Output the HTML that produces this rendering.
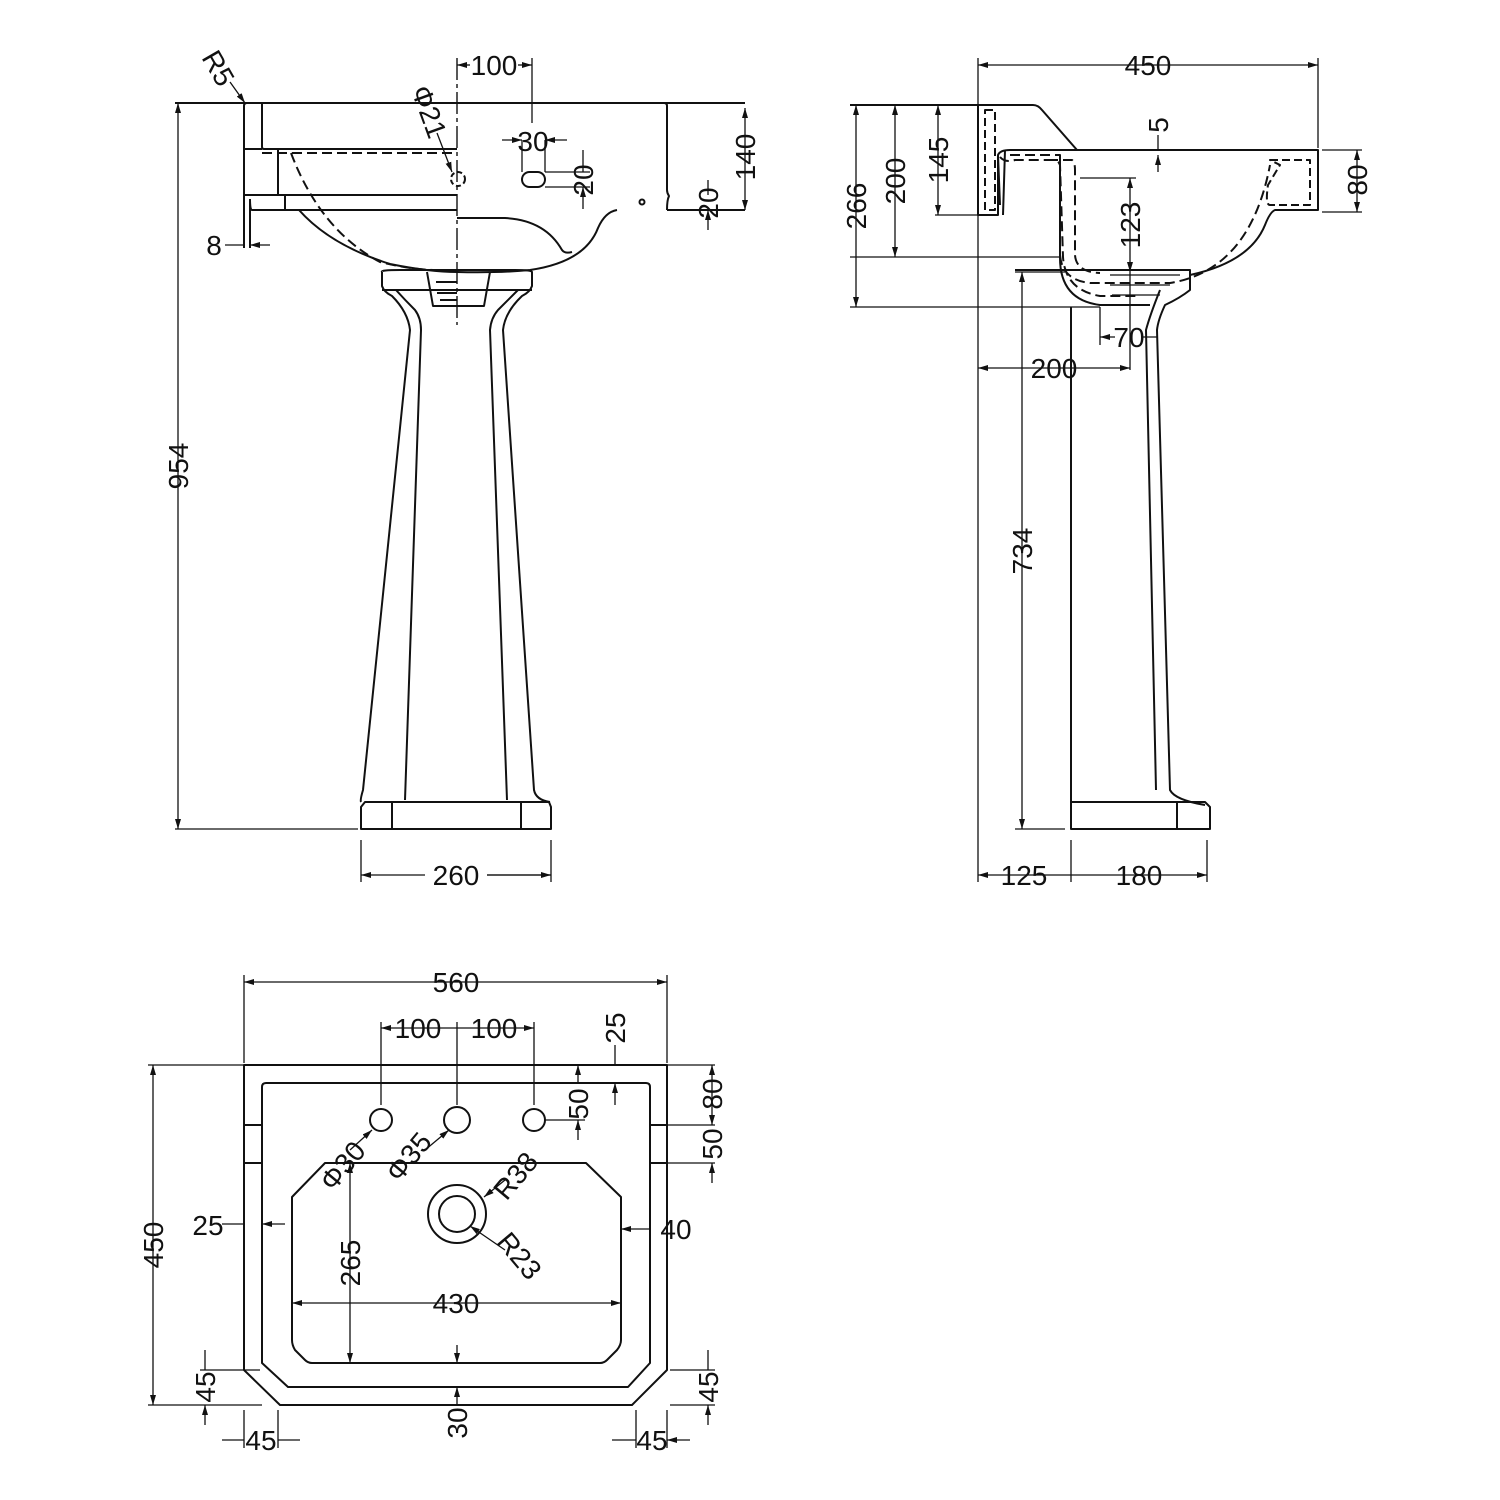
<!DOCTYPE html>
<html><head><meta charset="utf-8"><style>html,body{margin:0;padding:0;background:#fff}svg{display:block}</style></head><body>
<svg width="1500" height="1500" viewBox="0 0 1500 1500" xmlns="http://www.w3.org/2000/svg">
<defs>
<marker id="a" viewBox="0 0 10 6" refX="10" refY="3" markerWidth="10" markerHeight="6" orient="auto-start-reverse" markerUnits="userSpaceOnUse"><path d="M0,0L10,3L0,6Z" fill="#111"/></marker>
</defs>
<g fill="none" stroke="#111" stroke-width="2" stroke-linejoin="round">
<!-- FRONT VIEW -->
<path d="M175,103H745"/>
<path d="M247,103H664Q667,103 667,106V190Q667,193 669,196Q667,200 667,210"/>
<path d="M247,103Q244,103 244,106V195H457M262,103V147Q262,149 264,149H457M244,149H262M278,149V195"/>
<path d="M244,195V248M250,199V248M250,199Q250,210 252,210H457M285,195V210"/>
<path d="M262,153H457" stroke-dasharray="10,5"/>
<path d="M299,210Q330,245 390,264Q430,272 457,272"/>
<path d="M291,153Q320,230 380,262Q420,272 457,270" stroke-dasharray="10,5"/>
<path d="M667,210H745M617,210Q605,212 598,228Q585,262 530,270Q500,273 457,272"/>
<path d="M457,218H505Q545,220 562,250Q565,254 572,252"/>
<circle cx="642" cy="202" r="2.5"/>
<circle cx="458" cy="179" r="7" stroke-dasharray="5,3"/>
<rect x="522" y="172" width="23" height="15" rx="7.5"/>
<path d="M457,58V325" stroke-dasharray="22,4,4,4" stroke-width="1.4"/>
<!-- pedestal front -->
<path d="M382,272V286Q384,292 392,296Q408,312 410,330L363,790Q360,800 361,802"/>
<path d="M532,272V286Q530,292 522,296Q505,312 503,330L534,790Q536,800 550,802"/>
<path d="M382,272Q380,270 400,270H515Q532,270 532,272"/>
<path d="M382,290H532"/>
<path d="M396,290Q405,300 415,310Q421,318 421,330L405,800M518,290Q508,300 498,310Q491,318 490,330L507,800"/>
<path d="M427,272L433,306H484L490,272M436,282H457M437,293H457M440,300H457"/>
<path d="M365,802H549L551,807V829H361V807Z"/>
<path d="M392,802V829M521,802V829"/>
<!-- front dims -->
<path d="M178,103V829" marker-start="url(#a)" marker-end="url(#a)" stroke-width="1.3"/>
<path d="M175,829H358" stroke-width="1.3"/>
<path d="M361,840V882M551,840V882" stroke-width="1.3"/>
<path d="M361,875H425M487,875H551" marker-start="url(#a)" stroke-width="1.3"/>
<path d="M487,875H551" marker-end="url(#a)" stroke-width="1.3"/>
<path d="M532,58V123" stroke-width="1.3"/>
<path d="M470,65H457" marker-end="url(#a)" stroke-width="1.3"/>
<path d="M518,65H532" marker-end="url(#a)" stroke-width="1.3"/>
<path d="M502,140H522" marker-end="url(#a)" stroke-width="1.3"/>
<path d="M567,140H545" marker-end="url(#a)" stroke-width="1.3"/>
<path d="M522,140V172M545,140V172M545,172H590M545,187H590" stroke-width="1.3"/>
<path d="M583,150V172M583,209V187" marker-end="url(#a)" stroke-width="1.3"/>
<path d="M745,108V210" marker-start="url(#a)" marker-end="url(#a)" stroke-width="1.3"/>
<path d="M708,180V195M708,230V210" marker-end="url(#a)" stroke-width="1.3"/>
<path d="M225,245H244M270,245H250" marker-end="url(#a)" stroke-width="1.3"/>
<path d="M230,82L245,103" marker-end="url(#a)" stroke-width="1.3"/>
<path d="M437,133L452,172" marker-end="url(#a)" stroke-width="1.3"/>

<!-- SIDE VIEW -->
<path d="M978,58V882" stroke-width="1.3"/>
<path d="M1318,58V148" stroke-width="1.3"/>
<path d="M978,65H1318" marker-start="url(#a)" marker-end="url(#a)" stroke-width="1.3"/>
<path d="M850,105H1033Q1038,105 1042,110L1077,150H1318V210H1275Q1270,212 1265,225Q1250,262 1190,275"/>
<path d="M978,105V215H998V155Q1000,150 1010,150H1077"/>
<path d="M998,155L1000,205M1005,150L1003,215"/>
<path d="M985,110H995V210H985Z" stroke-dasharray="8,4"/>
<path d="M1000,157Q1005,163 1015,160H1055Q1058,160 1060,165L1063,257Q1065,290 1100,296H1140" stroke-dasharray="10,5"/>
<path d="M1010,155H1060V255Q1062,280 1090,283H1170Q1250,270 1270,165" stroke-dasharray="10,5"/>
<path d="M1270,160H1310V205H1270Q1265,205 1268,185L1280,165Z" stroke-dasharray="8,4"/>
<path d="M1048,160H1072Q1075,162 1075,170V255Q1076,272 1100,273" stroke-dasharray="10,5"/>
<path d="M1060,160V258Q1060,300 1100,305H1150"/>
<path d="M1015,270H1190V290Q1180,298 1165,305Q1158,320 1157,330L1170,790Q1175,800 1205,805"/>
<path d="M1110,275H1180M1110,285H1170M1112,295H1160" stroke-width="1.2"/>
<path d="M1160,290Q1150,315 1146,330L1156,790"/>
<path d="M1071,307V829H1210V807L1205,802H1071M1177,802V829"/>
<!-- side dims -->
<path d="M850,257H1060M850,307H1100M935,215H978M1080,178H1136M1015,272H1065M1015,829H1065" stroke-width="1.3"/>
<path d="M856,105V307" marker-start="url(#a)" marker-end="url(#a)" stroke-width="1.3"/>
<path d="M895,105V257" marker-start="url(#a)" marker-end="url(#a)" stroke-width="1.3"/>
<path d="M938,105V215" marker-start="url(#a)" marker-end="url(#a)" stroke-width="1.3"/>
<path d="M1158,135V150M1158,172V155" marker-end="url(#a)" stroke-width="1.3"/>
<path d="M1322,150H1362M1322,212H1362" stroke-width="1.3"/>
<path d="M1357,150V212" marker-start="url(#a)" marker-end="url(#a)" stroke-width="1.3"/>
<path d="M1130,178V272" marker-start="url(#a)" marker-end="url(#a)" stroke-width="1.3"/>
<path d="M1130,272V370M1100,307V345" stroke-width="1.3"/>
<path d="M1022,272V829" marker-start="url(#a)" marker-end="url(#a)" stroke-width="1.3"/>
<path d="M978,368H1130" marker-start="url(#a)" marker-end="url(#a)" stroke-width="1.3"/>
<path d="M1100,337H1115M1158,337H1143" marker-start="url(#a)" stroke-width="1.3"/>
<path d="M1071,840V882M1207,840V882" stroke-width="1.3"/>
<path d="M978,875H1071M1071,875H1207" marker-start="url(#a)" marker-end="url(#a)" stroke-width="1.3"/>

<!-- PLAN VIEW -->
<path d="M244,1065H667V1370L632,1405H280L244,1370Z"/>
<path d="M266,1083H646Q650,1083 650,1087V1363L628,1387H288L262,1363V1087Q262,1083 266,1083Z"/>
<path d="M244,1125H262M244,1163H262M650,1125H667M650,1163H667"/>
<path d="M325,1163H586L621,1197V1340Q621,1345 617,1350L607,1360Q604,1363 600,1363H312Q308,1363 305,1360L295,1350Q292,1345 292,1340V1197Z"/>
<circle cx="381" cy="1120" r="11"/><circle cx="457" cy="1120" r="13"/><circle cx="534" cy="1120" r="11"/>
<circle cx="457" cy="1214" r="29"/><circle cx="457" cy="1214" r="18"/>
<!-- plan dims -->
<path d="M244,975V1063M667,975V1063" stroke-width="1.3"/>
<path d="M244,982H667" marker-start="url(#a)" marker-end="url(#a)" stroke-width="1.3"/>
<path d="M381,1022V1105M457,1022V1105M534,1022V1105" stroke-width="1.3"/>
<path d="M381,1028H457M457,1028H534" marker-start="url(#a)" marker-end="url(#a)" stroke-width="1.3"/>
<path d="M148,1065H715M148,1405H262" stroke-width="1.3"/>
<path d="M153,1065V1405" marker-start="url(#a)" marker-end="url(#a)" stroke-width="1.3"/>
<path d="M615,1045V1065M615,1105V1083" marker-end="url(#a)" stroke-width="1.3"/>
<path d="M578,1065V1083" marker-start="url(#a)" stroke-width="1.3"/>
<path d="M578,1140V1120" marker-end="url(#a)" stroke-width="1.3"/>
<path d="M545,1120H585" stroke-width="1.3"/>
<path d="M650,1125H715M667,1163H715" stroke-width="1.3"/>
<path d="M712,1065V1125" marker-start="url(#a)" marker-end="url(#a)" stroke-width="1.3"/>
<path d="M712,1183V1163" marker-end="url(#a)" stroke-width="1.3"/>
<path d="M222,1224H244M285,1224H262" marker-end="url(#a)" stroke-width="1.3"/>
<path d="M650,1229H621" marker-end="url(#a)" stroke-width="1.3"/>
<path d="M350,1163V1363" marker-start="url(#a)" marker-end="url(#a)" stroke-width="1.3"/>
<path d="M292,1303H621" marker-start="url(#a)" marker-end="url(#a)" stroke-width="1.3"/>
<path d="M457,1345V1363" marker-end="url(#a)" stroke-width="1.3"/>
<path d="M457,1389V1405" stroke-width="1.3"/>
<path d="M457,1389V1387" marker-end="url(#a)" stroke-width="1.3"/>
<path d="M200,1370H260M670,1370H715M670,1405H715" stroke-width="1.3"/>
<path d="M205,1350V1370M205,1425V1405" marker-end="url(#a)" stroke-width="1.3"/>
<path d="M708,1350V1370M708,1425V1405" marker-end="url(#a)" stroke-width="1.3"/>
<path d="M244,1410V1448M278,1410V1448M636,1410V1448M667,1410V1448" stroke-width="1.3"/>
<path d="M222,1440H244M300,1440H278M612,1440H636M690,1440H667" marker-end="url(#a)" stroke-width="1.3"/>
<path d="M350,1150L372,1130" marker-end="url(#a)" stroke-width="1.3"/>
<path d="M425,1150L449,1130" marker-end="url(#a)" stroke-width="1.3"/>
<path d="M505,1180L484,1197" marker-end="url(#a)" stroke-width="1.3"/>
<path d="M505,1250L470,1226" marker-end="url(#a)" stroke-width="1.3"/>
</g>
<g font-family="Liberation Sans, sans-serif" font-size="28" fill="#111" text-anchor="middle">
<text x="494" y="75">100</text>
<text x="533" y="151">30</text>
<text transform="translate(593,180) rotate(-90)">20</text>
<text transform="translate(755,157) rotate(-90)">140</text>
<text transform="translate(718,203) rotate(-90)">20</text>
<text x="214" y="255">8</text>
<text transform="translate(188,466) rotate(-90)">954</text>
<text x="456" y="885">260</text>
<text transform="translate(210,73) rotate(60)">R5</text>
<text transform="translate(420,115) rotate(70)">Φ21</text>
<text x="1148" y="75">450</text>
<text transform="translate(866,206) rotate(-90)">266</text>
<text transform="translate(905,181) rotate(-90)">200</text>
<text transform="translate(948,160) rotate(-90)">145</text>
<text transform="translate(1168,125) rotate(-90)">5</text>
<text transform="translate(1367,180) rotate(-90)">80</text>
<text transform="translate(1140,225) rotate(-90)">123</text>
<text transform="translate(1032,551) rotate(-90)">734</text>
<text x="1054" y="378">200</text>
<text x="1129" y="347">70</text>
<text x="1024" y="885">125</text>
<text x="1139" y="885">180</text>
<text x="456" y="992">560</text>
<text x="418" y="1038">100</text>
<text x="494" y="1038">100</text>
<text transform="translate(625,1028) rotate(-90)">25</text>
<text transform="translate(588,1104) rotate(-90)">50</text>
<text transform="translate(722,1094) rotate(-90)">80</text>
<text transform="translate(722,1144) rotate(-90)">50</text>
<text transform="translate(163,1245) rotate(-90)">450</text>
<text x="208" y="1235">25</text>
<text x="676" y="1239">40</text>
<text transform="translate(360,1263) rotate(-90)">265</text>
<text x="456" y="1313">430</text>
<text transform="translate(467,1423) rotate(-90)">30</text>
<text transform="translate(215,1387) rotate(-90)">45</text>
<text transform="translate(718,1387) rotate(-90)">45</text>
<text x="261" y="1450">45</text>
<text x="652" y="1450">45</text>
<text transform="translate(350,1172) rotate(-50)">Φ30</text>
<text transform="translate(416,1163) rotate(-50)">Φ35</text>
<text transform="translate(523,1182) rotate(-50)">R38</text>
<text transform="translate(512,1262) rotate(50)">R23</text>
</g>
</svg>
</body></html>
